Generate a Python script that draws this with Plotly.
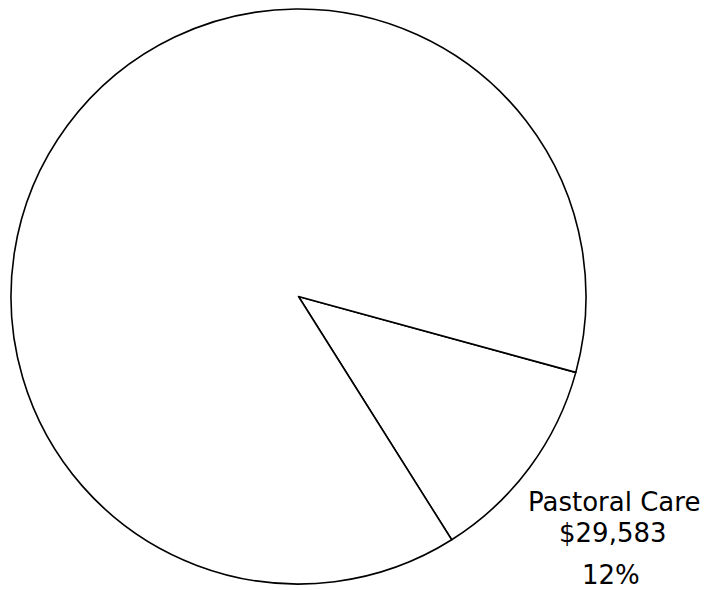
import plotly.graph_objects as go

# Data
labels = ["Other", "Pastoral Care"]
values = [221000, 29583]
shown_label = "Pastoral Care"

order_labels = [labels[1], labels[0]]
order_values = [values[1], values[0]]

W, H = 705, 590
FONT = "DejaVu Sans"

fig = go.Figure(go.Pie(
    labels=order_labels,
    values=order_values,
    sort=False,
    direction="clockwise",
    rotation=105.3,
    textinfo="none",
    hoverinfo="label+value+percent",
    marker=dict(colors=["white", "white"], line=dict(color="black", width=1.6)),
    showlegend=False,
    domain=dict(x=[11 / W, 586 / W], y=[1 - 584 / H, 1 - 9 / H]),
))

total = sum(values)
v = values[labels.index(shown_label)]
pct = round(100 * v / total)

def px(xp, yp):
    return xp / W, 1 - yp / H

ann_texts = [shown_label, f"${v:,}", f"{pct}%"]
ann_pos = [(614, 502.5), (612.5, 533), (611, 575)]
annotations = []
for t, (xp, yp) in zip(ann_texts, ann_pos):
    x, y = px(xp, yp)
    annotations.append(dict(
        text=t, x=x, y=y, xref="paper", yref="paper",
        xanchor="center", yanchor="middle", showarrow=False, borderpad=0,
        font=dict(family=FONT, size=26, color="black"),
    ))

fig.update_layout(
    width=W, height=H,
    margin=dict(l=0, r=0, t=0, b=0),
    paper_bgcolor="white",
    plot_bgcolor="white",
    annotations=annotations,
)

fig.write_html(
    "out.html",
    config={"displayModeBar": False},
    post_script="document.body.style.margin='0';document.body.style.overflow='hidden';",
)
